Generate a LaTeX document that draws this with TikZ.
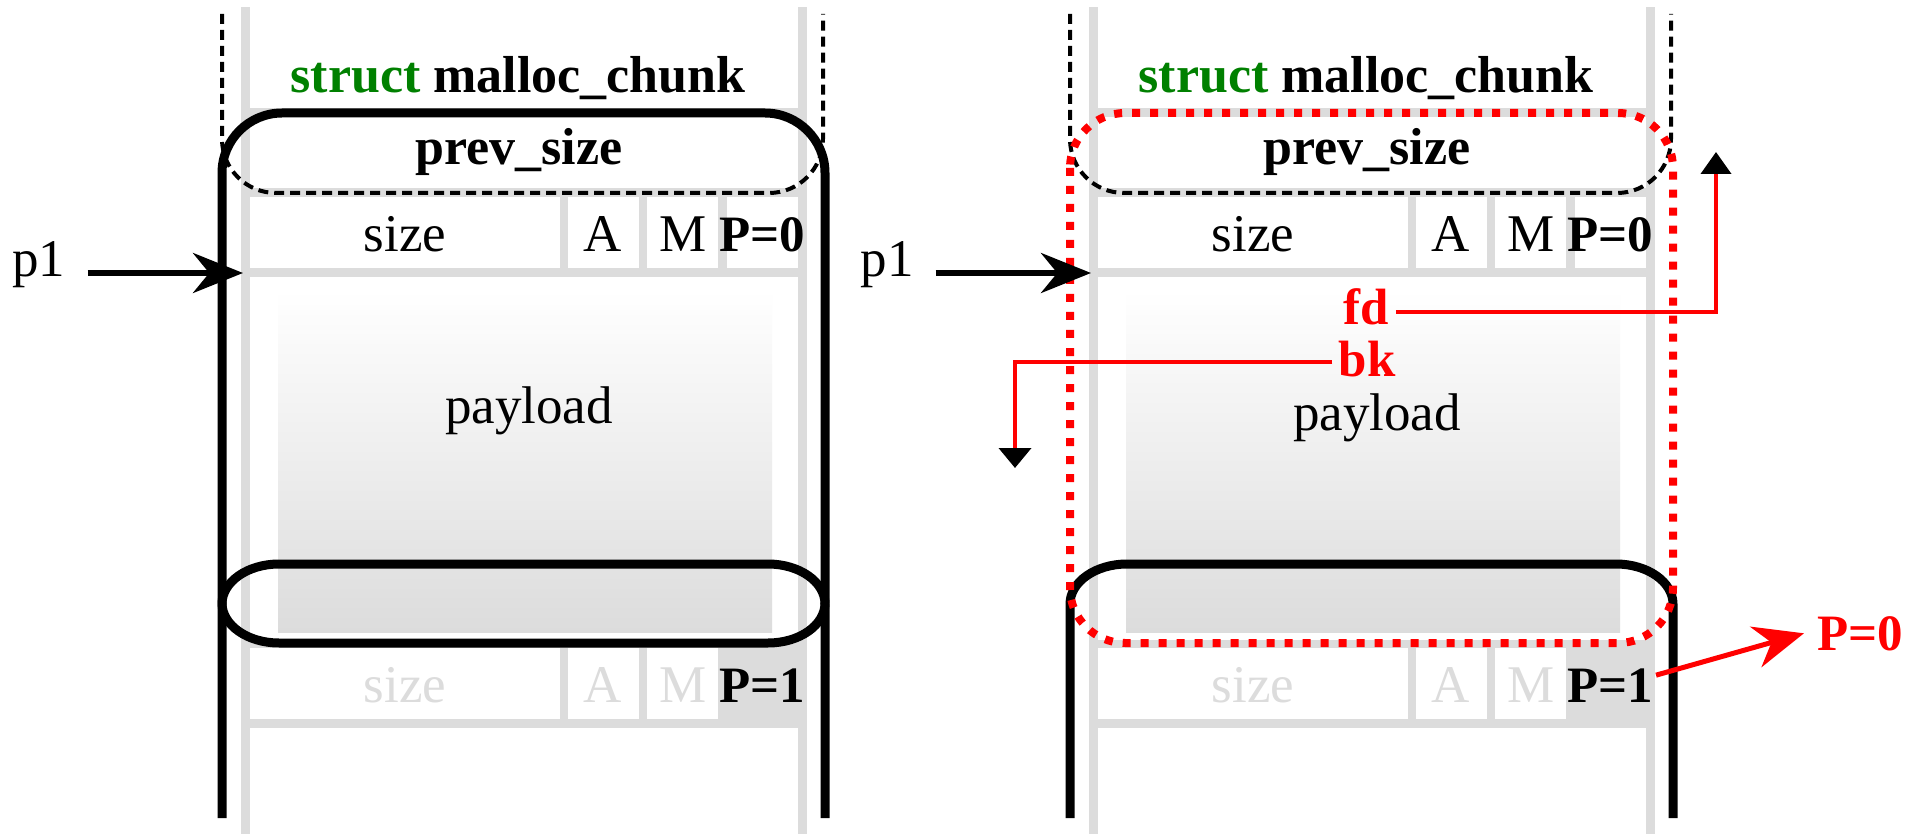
\documentclass[tikz,border=0pt]{standalone}
\usepackage{fontspec}
\setmainfont{Liberation Serif}
\usetikzlibrary{arrows.meta,calc}
\definecolor{cellgray}{RGB}{220,220,220}
\definecolor{kgreen}{RGB}{0,128,0}
\definecolor{kred}{RGB}{255,0,0}
\tikzset{
  txt/.style={inner sep=0pt, anchor=base, font=\fontsize{53pt}{60pt}\selectfont},
  btxt/.style={inner sep=0pt, anchor=base, font=\fontsize{51pt}{60pt}\selectfont\bfseries},
  ttl/.style={inner sep=0pt, anchor=base, font=\fontsize{52pt}{60pt}\selectfont\bfseries},
  chunkline/.style={line width=9pt, black},
  dashline/.style={line width=4pt, black, dash pattern=on 10pt off 6pt},
  reddot/.style={line width=8pt, kred, dash pattern=on 8pt off 10pt},
  redptr/.style={line width=4pt, kred},
  ptrarrow/.style={line width=6pt, black, -{Stealth[length=50pt,width=40pt]}},
}
\newcommand{\chunkbg}[2]{%
  \fill[cellgray] (241,7) rectangle (807,834);
  \fill[white] (250,7) rectangle (798,108);
  \fill[white] (250,117) rectangle (798,188);
  \fill[white] (250,197) rectangle (560,268);
  \fill[white] (568,197) rectangle (639,268);
  \fill[white] (647,197) rectangle (718,268);
  \fill[white] (727,197) rectangle (798,268);
  \fill[white] (250,277) rectangle (798,640);
  \shade[top color=white, bottom color=cellgray] (278,290) rectangle (772,632);
  \fill[white] (250,648) rectangle (560,719);
  \fill[white] (568,648) rectangle (639,719);
  \fill[white] (647,648) rectangle (718,719);
  \fill[white] (250,728) rectangle (798,834);
  \node[ttl] (title#1) at (518,93) {\textcolor{kgreen}{struct} malloc\_chunk};
  \node[ttl] (prev#1) at (519,165) {prev\_size};
  \node[txt] (size#1) at (405,252) {size};
  \node[txt] (A#1) at (603,252) {A};
  \node[txt] (M#1) at (683,252) {M};
  \node[btxt] (P#1) at (762,252) {P=0};
  \node[txt] (pay#1) at (529,#2) {payload};
  \node[txt, text=cellgray] (sizeb#1) at (405,702) {size};
  \node[txt, text=cellgray] (Ab#1) at (603,702) {A};
  \node[txt, text=cellgray] (Mb#1) at (683,702) {M};
  \node[btxt] (Pb#1) at (762,702) {P=1};
  \node[txt] (p#1) at (39,277) {p1};
  \coordinate (tip#1) at (243,273);
  \draw[dashline] (222,14) -- (222,139) .. controls (222,168.8) and (246.2,193) .. (276,193)
     -- (769,193) .. controls (798.8,193) and (823,168.8) .. (823,139) -- (823,14);
  \draw[chunkline] (222,818) -- (222,604) .. controls (222,581.9) and (247.5,564) .. (279,564)
     -- (768,564) .. controls (799.5,564) and (825,581.9) .. (825,604) -- (825,818);
}
\begin{document}
\begin{tikzpicture}[x=1pt,y=-1pt]
\useasboundingbox (0,0) rectangle (1909,834);
% left panel
\begin{scope}
  \chunkbg{L}{423}
  \draw[chunkline] (222,603) -- (222,173) .. controls (222,139.9) and (248.9,113) .. (282,113)
     -- (765,113) .. controls (798.1,113) and (825,139.9) .. (825,173)
     -- (825,603) .. controls (825,625.1) and (799.5,643) .. (768,643)
     -- (279,643) .. controls (247.5,643) and (222,625.1) .. (222,603) -- cycle;
  \draw[ptrarrow] ($(pL.east |- tipL)+(22,0)$) -- (tipL);
\end{scope}
% right panel
\begin{scope}[xshift=848pt]
  \chunkbg{R}{430}
  \draw[reddot, rounded corners=55pt] (222,113) rectangle (825,643);
  \draw[ptrarrow] ($(pR.east |- tipR)+(22,0)$) -- (tipR);
  \node[btxt, text=kred] (fd) at (518,325) {fd};
  \node[btxt, text=kred] (bk) at (519,376) {bk};
  \node[btxt, text=kred] (Pnew) at (1012,650) {P=0};
  \coordinate (fdEnd) at (868,152);
  \coordinate (bkEnd) at (167,468);
  \draw[redptr, -{Triangle[length=22pt,width=30pt,color=black]}]
     ([xshift=7pt,yshift=-5pt]fd.east) -| (fdEnd);
  \draw[redptr, -{Triangle[length=20pt,width=32pt,color=black]}]
     ([xshift=-6pt,yshift=-3pt]bk.west) -| (bkEnd);
  \draw[line width=5pt, kred, -{Stealth[length=50pt,width=42pt]}]
     ([xshift=3pt,yshift=10pt]PbR.east) -- ([xshift=-13pt]Pnew.west);
\end{scope}
\end{tikzpicture}
\end{document}
